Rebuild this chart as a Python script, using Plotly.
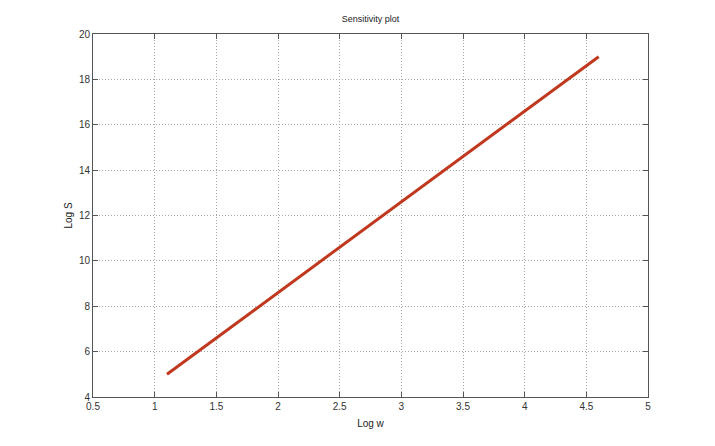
import plotly.graph_objects as go

log_w = [1.1, 1.5, 2.0, 2.5, 3.0, 3.5, 4.0, 4.6]
log_s = [5.0, 6.6, 8.6, 10.6, 12.6, 14.6, 16.6, 19.0]

x_ticks = [0.5, 1, 1.5, 2, 2.5, 3, 3.5, 4, 4.5, 5]
y_ticks = [4, 6, 8, 10, 12, 14, 16, 18, 20]

fig = go.Figure()
fig.add_trace(go.Scatter(x=log_w, y=log_s, mode="lines",
                         line=dict(color="#C0391F", width=3)))

axis_common = dict(showgrid=True, gridcolor="#a8a8a8", griddash="1px,2px", gridwidth=1,
                   showline=True, linecolor="#555555", linewidth=1, mirror="ticks",
                   ticks="inside", ticklen=5, tickcolor="#555555", zeroline=False,
                   tickfont=dict(family="Liberation Sans Narrow, Liberation Sans, Arial", size=10, color="#333333"))

fig.update_layout(
    width=715, height=446,
    margin=dict(l=85, r=75, t=26, b=57),
    paper_bgcolor="white", plot_bgcolor="white",
    showlegend=False,
    title=dict(text="Sensitivity plot", x=(85 + 640) / 2 / 715, xanchor="center",
               y=1 - 11 / 446, yanchor="middle",
               font=dict(family="Liberation Sans Narrow, Liberation Sans, Arial", size=9, color="#222222")),
    xaxis=dict(range=[0.5, 5], tickvals=x_ticks, ticktext=[str(v) for v in x_ticks],
               title=dict(text="Log w", standoff=8,
                          font=dict(family="Liberation Sans Narrow, Liberation Sans, Arial", size=10, color="#222222")),
               **axis_common),
    yaxis=dict(range=[4, 20], tickvals=y_ticks,
               title=dict(text="Log S", standoff=4,
                          font=dict(family="Liberation Sans Narrow, Liberation Sans, Arial", size=10, color="#222222")),
               **axis_common),
)

fig.write_html("out.html")
